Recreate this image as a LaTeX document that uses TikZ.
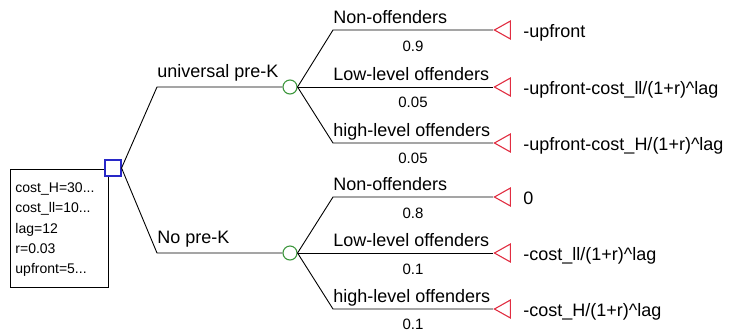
\documentclass[tikz,border=0pt]{standalone}
\usepackage{fontspec}
\setmainfont{Liberation Sans}
\usetikzlibrary{shapes.geometric}
\definecolor{decblue}{RGB}{40,40,200}
\definecolor{chgreen}{RGB}{60,150,60}
\definecolor{termred}{RGB}{225,45,65}
\begin{document}
\begin{tikzpicture}[x=1pt,y=-1pt,line width=0.9pt,
  decision/.style={draw=decblue,line width=1.1pt,rectangle,minimum size=16pt,inner sep=0pt},
  chance/.style={draw=chgreen,line width=1.1pt,circle,minimum size=14pt,inner sep=0pt},
  terminal/.style={draw=termred,line width=1.1pt,isosceles triangle,isosceles triangle stretches,
    shape border rotate=180,minimum width=18pt,minimum height=16pt,inner sep=0pt,anchor=apex},
  branchlbl/.style={anchor=base west,inner sep=0pt,font=\fontsize{18}{20}\selectfont},
  problbl/.style={anchor=center,inner sep=0pt,font=\fontsize{15}{17}\selectfont},
  payoff/.style={anchor=base west,inner sep=0pt,font=\fontsize{18}{20}\selectfont},
  vars/.style={anchor=base west,inner sep=0pt,font=\fontsize{14}{16}\selectfont}]
\useasboundingbox (0,0) rectangle (733,333);

% variable box
\draw (10,169) -- (105,169);
\draw (108,176) -- (108,287) -- (10,287) -- (10,169);
\node[vars] (v1) at (15,192) {cost\_H=30...};
\node[vars] (v2) at (15,212) {cost\_ll=10...};
\node[vars] (v3) at (15,233) {lag=12};
\node[vars] (v4) at (15,253) {r=0.03};
\node[vars] (v5) at (15,273) {upfront=5...};

% decision and chance nodes
\node[decision] (d) at (113,168) {};
\node[chance] (c1) at (290,87) {};
\node[chance] (c2) at (290,253) {};

\draw (d.east) -- (157,87) -- (c1.west);
\draw (d.east) -- (157,253) -- (c2.west);
\node[branchlbl] (a1) at (157,77) {universal pre-K};
\node[branchlbl] (a2) at (157,243) {No pre-K};

% terminal nodes
\node[terminal] (t1) at (493,30) {};
\node[terminal] (t2) at (493,87) {};
\node[terminal] (t3) at (493,143) {};
\node[terminal] (t4) at (493,197) {};
\node[terminal] (t5) at (493,253) {};
\node[terminal] (t6) at (493,309) {};

% outcome branches
\draw (c1.east) -- (333,30) -- (t1.apex);
\draw (c1.east) -- (t2.apex);
\draw (c1.east) -- (333,143) -- (t3.apex);
\draw (c2.east) -- (333,197) -- (t4.apex);
\draw (c2.east) -- (t5.apex);
\draw (c2.east) -- (333,309) -- (t6.apex);

\node[branchlbl] (o1) at (333,23) {Non-offenders};
\node[branchlbl] (o2) at (333,80) {Low-level offenders};
\node[branchlbl] (o3) at (333,136) {high-level offenders};
\node[branchlbl] (o4) at (333,190) {Non-offenders};
\node[branchlbl] (o5) at (333,246) {Low-level offenders};
\node[branchlbl] (o6) at (333,302) {high-level offenders};

\node[problbl] (p1) at (413,46) {0.9};
\node[problbl] (p2) at (413,102) {0.05};
\node[problbl] (p3) at (413,158) {0.05};
\node[problbl] (p4) at (413,213) {0.8};
\node[problbl] (p5) at (413,269) {0.1};
\node[problbl] (p6) at (413,324) {0.1};

% payoffs
\node[payoff] (q1) at (523,37) {-upfront};
\node[payoff] (q2) at (523,94) {-upfront-cost\_ll/(1+r)\textasciicircum lag};
\node[payoff] (q3) at (523,150) {-upfront-cost\_H/(1+r)\textasciicircum lag};
\node[payoff] (q4) at (523,204) {0};
\node[payoff] (q5) at (523,260) {-cost\_ll/(1+r)\textasciicircum lag};
\node[payoff] (q6) at (523,316) {-cost\_H/(1+r)\textasciicircum lag};
\end{tikzpicture}
\end{document}
